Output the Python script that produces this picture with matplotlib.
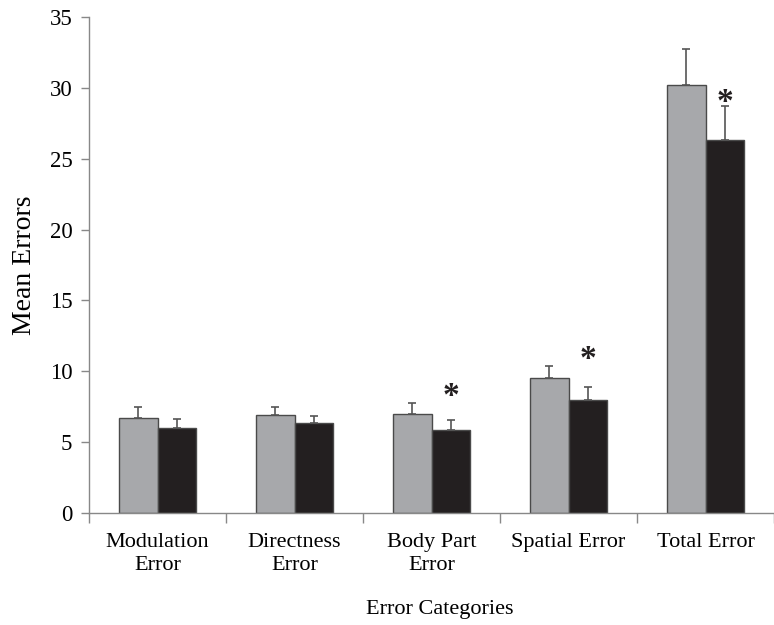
import matplotlib.pyplot as plt
import numpy as np

plt.rcParams['font.family'] = ['Liberation Serif', 'DejaVu Serif']

# data
categories = ['Modulation\nError', 'Directness\nError', 'Body Part\nError',
              'Spatial Error', 'Total Error']
gray_vals = [6.72, 6.91, 7.0, 9.52, 30.2]
gray_err = [0.73, 0.59, 0.78, 0.89, 2.5]
black_vals = [6.02, 6.37, 5.83, 7.97, 26.3]
black_err = [0.65, 0.51, 0.75, 0.94, 2.4]
star_idx = [2, 3, 4]
star_y = [8.25, 10.85, 28.95]

fig = plt.figure(figsize=(7.74, 6.25), dpi=100)
ax = fig.add_axes([0.115, 0.179, 0.885, 0.794])

x = np.arange(len(categories))
w = 0.28
ax.bar(x - w/2, gray_vals, w, color='#a7a8ab', edgecolor='#4a4a4a', linewidth=1.0)
ax.bar(x + w/2, black_vals, w, color='#231f20', edgecolor='#4a4a4a', linewidth=1.0)

# one-sided error bars
ax.errorbar(x - w/2, gray_vals, yerr=[np.zeros(len(x)), gray_err], fmt='none',
            ecolor='#555555', elinewidth=1.2, capsize=3, capthick=1.2)
ax.errorbar(x + w/2, black_vals, yerr=[np.zeros(len(x)), black_err], fmt='none',
            ecolor='#555555', elinewidth=1.2, capsize=3, capthick=1.2)

for i, y in zip(star_idx, star_y):
    ax.text(x[i] + w/2, y, '*', ha='center', va='center', fontsize=24,
            fontweight='bold', color='#231f20')

ax.set_xlim(-0.5, 4.43)
ax.set_ylim(0, 35)
ax.set_yticks(np.arange(0, 36, 5))

# ticks at category borders, labels at centres
ax.set_xticks(np.arange(-0.5, 5, 1))
ax.set_xticklabels([])
ax.set_xticks(x, minor=True)
ax.set_xticklabels(categories, minor=True, linespacing=1.35)
ax.tick_params(axis='x', which='major', length=7, color='#888888', width=1)
ax.tick_params(axis='x', which='minor', length=0, pad=14, labelsize=16)
ax.tick_params(axis='y', length=6, color='#888888', width=1, labelsize=16.5, pad=6)

for s in ['top', 'right']:
    ax.spines[s].set_visible(False)
for s in ['left', 'bottom']:
    ax.spines[s].set_color('#888888')
    ax.spines[s].set_linewidth(1)

ax.set_ylabel('Mean Errors', fontsize=20, labelpad=9)
ax.set_xlabel('Error Categories', fontsize=16)
ax.xaxis.set_label_coords(0.512, -0.175)

fig.savefig('out.png', dpi=100)
